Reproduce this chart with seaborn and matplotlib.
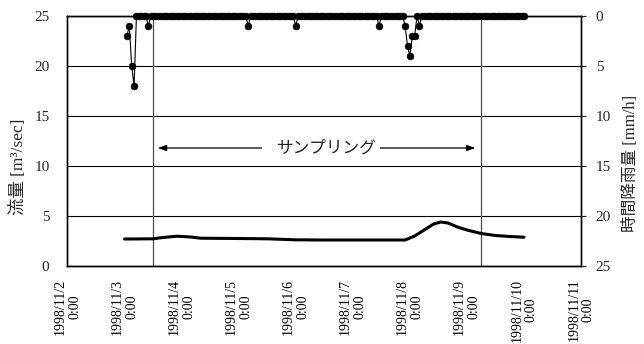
import matplotlib
matplotlib.use("Agg")
import matplotlib.pyplot as plt
import seaborn as sns
import pandas as pd

# ---------------- data ----------------
flow_times = [
    "1998-11-03 00:00", "1998-11-03 12:00", "1998-11-03 16:00", "1998-11-03 22:00",
    "1998-11-04 04:00", "1998-11-04 08:00", "1998-11-05 00:00", "1998-11-05 12:00",
    "1998-11-06 00:00", "1998-11-06 12:00", "1998-11-07 00:00", "1998-11-07 12:00",
    "1998-11-07 22:00", "1998-11-08 02:00", "1998-11-08 06:00", "1998-11-08 10:00",
    "1998-11-08 13:00", "1998-11-08 16:00", "1998-11-08 20:00", "1998-11-09 00:00",
    "1998-11-09 06:00", "1998-11-09 12:00", "1998-11-09 18:00", "1998-11-10 00:00",
]
flow_values = [
    2.70, 2.72, 2.85, 2.98,
    2.90, 2.78, 2.75, 2.72,
    2.62, 2.60, 2.60, 2.60,
    2.60, 3.00, 3.60, 4.20,
    4.40, 4.30, 3.90, 3.60,
    3.25, 3.05, 2.95, 2.88,
]

rain_start = "1998-11-03 01:00"
rain_values = [
    2, 1, 5, 7, 0, 0, 0, 0, 0, 1, 0, 0, 0, 0, 0, 0, 0, 0, 0, 0, 0, 0, 0, 0,
    0, 0, 0, 0, 0, 0, 0, 0, 0, 0, 0, 0, 0, 0, 0, 0, 0, 0, 0, 0, 0, 0, 0, 0,
    0, 0, 0, 1, 0, 0, 0, 0, 0, 0, 0, 0, 0, 0, 0, 0, 0, 0, 0, 0, 0, 0, 0, 1,
    0, 0, 0, 0, 0, 0, 0, 0, 0, 0, 0, 0, 0, 0, 0, 0, 0, 0, 0, 0, 0, 0, 0, 0,
    0, 0, 0, 0, 0, 0, 0, 0, 0, 0, 1, 0, 0, 0, 0, 0, 0, 0, 0, 0, 0, 1, 3, 4,
    2, 2, 0, 1, 0, 0, 0, 0, 0, 0, 0, 0, 0, 0, 0, 0, 0, 0, 0, 0, 0, 0, 0, 0,
    0, 0, 0, 0, 0, 0, 0, 0, 0, 0, 0, 0, 0, 0, 0, 0, 0, 0, 0, 0, 0, 0, 0, 0,
]

tick_dates = ["1998-11-02", "1998-11-03", "1998-11-04", "1998-11-05", "1998-11-06",
              "1998-11-07", "1998-11-08", "1998-11-09", "1998-11-10", "1998-11-11"]
tick_labels = ["1998/11/2\n0:00", "1998/11/3\n0:00", "1998/11/4\n0:00", "1998/11/5\n0:00",
               "1998/11/6\n0:00", "1998/11/7\n0:00", "1998/11/8\n0:00", "1998/11/9\n0:00",
               "1998/11/10\n0:00", "1998/11/11\n0:00"]

sampling_start = "1998-11-03 12:00"
sampling_end = "1998-11-09 06:00"
sampling_label = "サンプリング"

left_yticks = [0, 5, 10, 15, 20, 25]
right_yticks = [0, 5, 10, 15, 20, 25]

# ---------------- style ----------------
sns.set_style("white")
plt.rcParams["font.family"] = ["Liberation Serif", "Noto Sans CJK JP", "DejaVu Sans"]
plt.rcParams["axes.unicode_minus"] = False

flow_df = pd.DataFrame({"time": pd.to_datetime(flow_times), "flow": flow_values})
rain_df = pd.DataFrame({
    "time": pd.date_range(rain_start, periods=len(rain_values), freq="h"),
    "rain": rain_values,
})

fig = plt.figure(figsize=(6.44, 3.44), dpi=100)
ax = fig.add_axes([0.1048, 0.2267, 0.7975, 0.7268])

# horizontal grid lines
ax.set_ylim(0, 25)
ax.set_yticks(left_yticks)
ax.yaxis.grid(True, color="black", linewidth=0.8)
ax.xaxis.grid(False)
ax.set_axisbelow(True)

# sampling period vertical lines
for t in (sampling_start, sampling_end):
    ax.axvline(pd.Timestamp(t), color="#4d4d4d", linewidth=0.9, zorder=1)

# flow line
sns.lineplot(data=flow_df, x="time", y="flow", ax=ax, color="black",
             linewidth=2.2, zorder=3)

ax.set_xlim(pd.Timestamp(tick_dates[0]), pd.Timestamp(tick_dates[-1]))
ax.set_xticks(pd.to_datetime(tick_dates))
ax.set_xticklabels(tick_labels, rotation=90, ha="center", va="top",
                   multialignment="center", fontsize=10, linespacing=1.15)
ax.tick_params(axis="x", direction="in", length=4, width=0.8, pad=9, colors="black")
ax.tick_params(axis="y", direction="in", length=0, pad=13, labelsize=11)
ax.set_xlabel("")
ax.set_ylabel("流量 [m³/sec]", fontsize=12.5)
ax.yaxis.set_label_coords(-0.079, 0.396)

for s in ax.spines.values():
    s.set_color("black")
    s.set_linewidth(1.0)

# sampling annotation
ann_y = 11.8
ax.annotate("", xy=(pd.Timestamp("1998-11-03 14:00"), ann_y),
            xytext=(pd.Timestamp("1998-11-05 09:40"), ann_y),
            arrowprops=dict(arrowstyle="-|>,head_length=0.5,head_width=0.18",
                            color="black", lw=0.9, shrinkA=0, shrinkB=0))
ax.annotate("", xy=(pd.Timestamp("1998-11-09 03:30"), ann_y),
            xytext=(pd.Timestamp("1998-11-07 11:30"), ann_y),
            arrowprops=dict(arrowstyle="-|>,head_length=0.5,head_width=0.18",
                            color="black", lw=0.9, shrinkA=0, shrinkB=0))
ax.text(pd.Timestamp("1998-11-06 13:00"), ann_y, sampling_label,
        ha="center", va="center", fontsize=12, color="#222222")

# rain on twin (inverted) axis
ax2 = ax.twinx()
sns.lineplot(data=rain_df, x="time", y="rain", ax=ax2, color="black",
             linewidth=0.8, marker="o", markersize=4.8, markeredgecolor="black",
             markeredgewidth=0.5, zorder=4)
for ln in ax2.get_lines():
    ln.set_clip_on(False)
ax2.set_ylim(25, 0)
ax2.set_yticks(right_yticks)
ax2.tick_params(axis="y", direction="out", length=3.5, width=0.8, pad=7, labelsize=11)
ax2.set_ylabel("時間降雨量 [mm/h]", fontsize=12, rotation=90)
ax2.yaxis.set_label_coords(1.082, 0.41)
ax2.set_xlabel("")
ax2.grid(False)
ax2.set_xlim(pd.Timestamp(tick_dates[0]), pd.Timestamp(tick_dates[-1]))
for s in ax2.spines.values():
    s.set_color("black")
    s.set_linewidth(1.0)

fig.savefig("out.png", dpi=100)
